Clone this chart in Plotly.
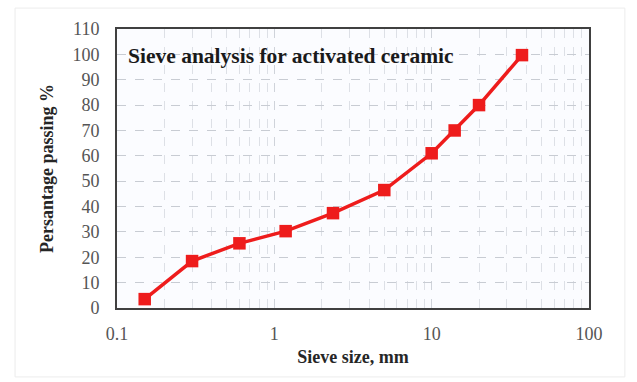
import plotly.graph_objects as go

sieve_mm = [0.15, 0.3, 0.6, 1.18, 2.36, 5, 10, 14, 20, 37.5]
passing_pct = [3.5, 18.5, 25.5, 30.3, 37.4, 46.5, 61, 70, 80, 99.7]
x_ticks = [0.1, 1, 10, 100]
x_tick_labels = ["0.1", "1", "10", "100"]
x_minor_ticks = [m * d for d in (0.1, 1, 10) for m in range(2, 10)]
y_ticks = list(range(0, 111, 10))

serif = "Liberation Serif, Times New Roman, serif"
tick_font = dict(family=serif, size=18, color="#555555")

fig = go.Figure()
fig.add_trace(go.Scatter(
    x=sieve_mm, y=passing_pct, mode="lines+markers",
    line=dict(color="#ee1c1c", width=3.5),
    marker=dict(symbol="square", size=12.5, color="#ee1c1c"),
    showlegend=False,
))

fig.update_layout(
    width=637, height=382,
    margin=dict(l=117, r=48, t=29, b=74),
    paper_bgcolor="white", plot_bgcolor="#fbfcff",
    font=dict(family=serif, size=17, color="#404040"),
    xaxis=dict(
        type="log", range=[-1, 2],
        tickvals=x_ticks, ticktext=x_tick_labels, tickfont=tick_font,
        ticklabelstandoff=8,
        showgrid=True, gridcolor="#cfd3da", griddash="dash", gridwidth=1,
        minor=dict(tickvals=x_minor_ticks, showgrid=True, gridcolor="#dde0e6", griddash="dash", gridwidth=1, ticks=""),
        showline=True, linecolor="#404040", linewidth=2, mirror=True,
        ticks="", ticklen=0,
        title=dict(text="<b>Sieve size, mm</b>", font=dict(family=serif, size=18, color="#262626"), standoff=8),
        zeroline=False,
    ),
    yaxis=dict(
        range=[0, 110], tickvals=y_ticks, tickfont=tick_font,
        ticklabelstandoff=12,
        showgrid=True, gridcolor="#c8ccd3", griddash="dash", gridwidth=1,
        showline=True, linecolor="#404040", linewidth=2, mirror=True,
        ticks="", zeroline=False,
        title=dict(text="<b>Persantage passing %</b>", font=dict(family=serif, size=18, color="#262626"), standoff=14),
    ),
    annotations=[dict(
        text="<b>Sieve analysis for activated ceramic</b>",
        xref="paper", yref="paper", x=0.02, y=0.905, xanchor="left", yanchor="middle",
        showarrow=False, font=dict(family=serif, size=21.5, color="#1a1a1a"),
    )],
    shapes=[dict(
        type="rect", xref="paper", yref="paper",
        x0=-0.216, x1=1.076, y0=-0.247, y1=1.075,
        line=dict(color="#ececec", width=1),
    )],
)

fig.write_html("out.html")
